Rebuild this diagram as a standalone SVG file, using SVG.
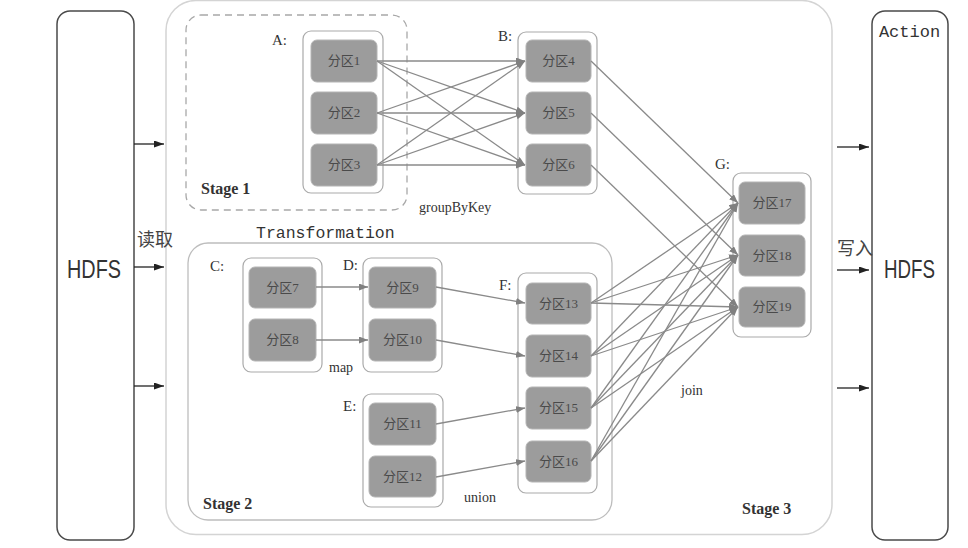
<svg xmlns="http://www.w3.org/2000/svg" width="968" height="548" viewBox="0 0 968 548">
<style>
.outer{fill:#fff;stroke:#d4d4d4;stroke-width:1.5}
.stage2{fill:#fff;stroke:#bdbdbd;stroke-width:1.3}
.stage1{fill:none;stroke:#a8a8a8;stroke-width:1.3;stroke-dasharray:7 5}
.hdfs{fill:#fff;stroke:#4a4a4a;stroke-width:1.5}
.cont{fill:#fff;stroke:#aaaaaa;stroke-width:1.2}
.part{fill:#9c9c9c;stroke:#b4b4b4;stroke-width:1}
.pt{font-family:"Liberation Serif","Noto Sans CJK SC",serif;font-size:13px;fill:#4a4a4a;text-anchor:middle}
.lbl{font-family:"Liberation Serif",serif;font-size:15px;fill:#333}
.stg{font-family:"Liberation Serif",serif;font-size:16px;fill:#333;font-weight:bold}
.op{font-family:"Liberation Serif",serif;font-size:14px;fill:#333}
.mono{font-family:"Liberation Mono",monospace;fill:#333}
.big{font-family:"Liberation Sans",sans-serif;font-size:25px;fill:#333}
.cjk{font-family:"Noto Sans CJK SC",sans-serif;font-size:18px;fill:#444}
.conn{stroke:#8a8a8a;stroke-width:1.3;fill:none;marker-end:url(#ag)}
.io{stroke:#222;stroke-width:1.3;fill:none;marker-end:url(#ab)}
</style>
<defs>
<marker id="ag" markerUnits="userSpaceOnUse" markerWidth="10" markerHeight="8" refX="9" refY="3.5" orient="auto">
<path d="M0,0 L9,3.5 L0,7 z" fill="#808080"/>
</marker>
<marker id="ab" markerUnits="userSpaceOnUse" markerWidth="11" markerHeight="8" refX="10" refY="3.5" orient="auto">
<path d="M0,0 L10,3.5 L0,7 z" fill="#222"/>
</marker>
</defs>
<rect width="968" height="548" fill="#fff"/>

<g id="stage3">
<rect class="outer" x="166" y="0.5" width="666" height="534" rx="30"/>
<text class="stg" x="742" y="514">Stage 3</text>
</g>
<g id="stage1">
<rect class="stage1" x="186" y="15" width="221" height="195" rx="15"/>
<text class="stg" x="201" y="194">Stage 1</text>
</g>
<text class="mono" x="256" y="238" font-size="16.5px">Transformation</text>
<g id="stage2">
<rect class="stage2" x="188" y="243" width="424" height="277" rx="20"/>
<text class="stg" x="203" y="509">Stage 2</text>
</g>

<g id="hdfs-in">
<rect class="hdfs" x="57" y="11" width="77" height="529" rx="13"/>
<text class="big" x="67" y="278" textLength="54" lengthAdjust="spacingAndGlyphs">HDFS</text>
</g>
<g id="hdfs-out">
<rect class="hdfs" x="872" y="11" width="76" height="529" rx="13"/>
<text class="mono" x="909.5" y="37" font-size="17px" text-anchor="middle">Action</text>
<text class="big" x="884" y="278" textLength="51" lengthAdjust="spacingAndGlyphs">HDFS</text>
</g>
<text class="cjk" x="137" y="246" font-size="19px">读取</text>
<text class="cjk" x="837" y="255">写入</text>

<g id="A">
<text class="lbl" x="272" y="45">A:</text>
<rect class="cont" x="303" y="31" width="80" height="162" rx="8"/>
<rect class="part" x="311" y="40" width="66" height="42" rx="6"/><text class="pt" x="344" y="65">分区1</text>
<rect class="part" x="311" y="92" width="66" height="42" rx="6"/><text class="pt" x="344" y="117">分区2</text>
<rect class="part" x="311" y="144" width="66" height="42" rx="6"/><text class="pt" x="344" y="169">分区3</text>
</g>
<g id="B">
<text class="lbl" x="498" y="41">B:</text>
<rect class="cont" x="518" y="32" width="79" height="162" rx="8"/>
<rect class="part" x="526" y="40" width="65" height="42" rx="6"/><text class="pt" x="558.5" y="65">分区4</text>
<rect class="part" x="526" y="92" width="65" height="42" rx="6"/><text class="pt" x="558.5" y="117">分区5</text>
<rect class="part" x="526" y="144" width="65" height="42" rx="6"/><text class="pt" x="558.5" y="169">分区6</text>
</g>
<g id="C">
<text class="lbl" x="210" y="271">C:</text>
<rect class="cont" x="243" y="258" width="79" height="114" rx="8"/>
<rect class="part" x="249" y="267" width="67" height="41" rx="6"/><text class="pt" x="282.5" y="292">分区7</text>
<rect class="part" x="249" y="319" width="67" height="42" rx="6"/><text class="pt" x="282.5" y="344">分区8</text>
</g>
<g id="D">
<text class="lbl" x="343" y="270">D:</text>
<rect class="cont" x="363" y="258" width="79" height="114" rx="8"/>
<rect class="part" x="369" y="267" width="67" height="41" rx="6"/><text class="pt" x="402.5" y="292">分区9</text>
<rect class="part" x="369" y="319" width="67" height="42" rx="6"/><text class="pt" x="402.5" y="344">分区10</text>
</g>
<g id="E">
<text class="lbl" x="343" y="411">E:</text>
<rect class="cont" x="363" y="394" width="80" height="113" rx="8"/>
<rect class="part" x="369" y="403" width="67" height="42" rx="6"/><text class="pt" x="402.5" y="428">分区11</text>
<rect class="part" x="369" y="456" width="67" height="41" rx="6"/><text class="pt" x="402.5" y="481">分区12</text>
</g>
<g id="F">
<text class="lbl" x="499" y="290">F:</text>
<rect class="cont" x="518" y="273" width="79" height="220" rx="8"/>
<rect class="part" x="526" y="283" width="65" height="41" rx="6"/><text class="pt" x="558.5" y="308">分区13</text>
<rect class="part" x="526" y="335" width="65" height="42" rx="6"/><text class="pt" x="558.5" y="360">分区14</text>
<rect class="part" x="526" y="387" width="65" height="42" rx="6"/><text class="pt" x="558.5" y="412">分区15</text>
<rect class="part" x="526" y="441" width="65" height="41" rx="6"/><text class="pt" x="558.5" y="466">分区16</text>
</g>
<g id="G">
<text class="lbl" x="715" y="169">G:</text>
<rect class="cont" x="733" y="173" width="78" height="164" rx="8"/>
<rect class="part" x="739" y="182" width="66" height="42" rx="6"/><text class="pt" x="772" y="207">分区17</text>
<rect class="part" x="739" y="235" width="66" height="41" rx="6"/><text class="pt" x="772" y="260">分区18</text>
<rect class="part" x="739" y="287" width="66" height="40" rx="6"/><text class="pt" x="772" y="311">分区19</text>
</g>

<g id="op-labels">
<text class="op" x="419" y="212">groupByKey</text>
<text class="op" x="329" y="372">map</text>
<text class="op" x="464" y="502">union</text>
<text class="op" x="681" y="395">join</text>
</g>

<g id="connectors">
<path class="io" d="M134,144 L164,144"/>
<path class="io" d="M134,267 L164,267"/>
<path class="io" d="M134,386 L164,386"/>
<path class="io" d="M837,147 L869,147"/>
<path class="io" d="M837,270 L869,270"/>
<path class="io" d="M837,388 L869,388"/>

<path class="conn" d="M377,61 L525,61"/>
<path class="conn" d="M377,61 L525,113"/>
<path class="conn" d="M377,61 L525,165"/>
<path class="conn" d="M377,113 L525,61"/>
<path class="conn" d="M377,113 L525,113"/>
<path class="conn" d="M377,113 L525,165"/>
<path class="conn" d="M377,165 L525,61"/>
<path class="conn" d="M377,165 L525,113"/>
<path class="conn" d="M377,165 L525,165"/>

<path class="conn" d="M591,61 L738,203"/>
<path class="conn" d="M591,113 L738,255"/>
<path class="conn" d="M591,165 L738,307"/>

<path class="conn" d="M316,287 L368,287"/>
<path class="conn" d="M316,340 L368,340"/>
<path class="conn" d="M436,287 L525,303"/>
<path class="conn" d="M436,340 L525,356"/>
<path class="conn" d="M436,424 L525,408"/>
<path class="conn" d="M436,477 L525,461"/>

<path class="conn" d="M591,303 L738,203"/>
<path class="conn" d="M591,303 L738,255"/>
<path class="conn" d="M591,303 L738,307"/>
<path class="conn" d="M591,356 L738,203"/>
<path class="conn" d="M591,356 L738,255"/>
<path class="conn" d="M591,356 L738,307"/>
<path class="conn" d="M591,408 L738,203"/>
<path class="conn" d="M591,408 L738,255"/>
<path class="conn" d="M591,408 L738,307"/>
<path class="conn" d="M591,461 L738,203"/>
<path class="conn" d="M591,461 L738,255"/>
<path class="conn" d="M591,461 L738,307"/>
</g>
</svg>
